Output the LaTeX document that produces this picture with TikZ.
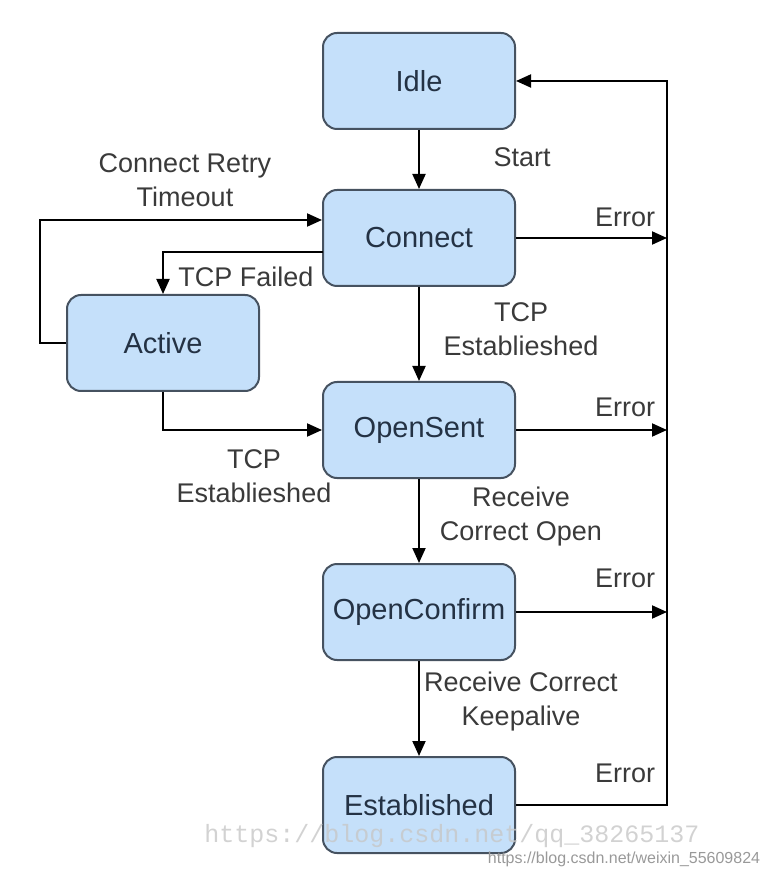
\documentclass[tikz,border=0pt]{standalone}
\usepackage{fontspec}
\setmainfont{Liberation Sans}
\newfontfamily\markfont{Liberation Mono}
\usetikzlibrary{arrows.meta}
\definecolor{statefill}{RGB}{197,224,250}
\definecolor{stateline}{RGB}{70,82,96}
\definecolor{statetext}{RGB}{36,50,68}
\definecolor{labeltext}{RGB}{58,58,58}
\begin{document}
\begin{tikzpicture}[x=0.5pt, y=-0.5pt, line width=1pt, >={Triangle[length=7.5pt,width=6.5pt]},
	state/.style={draw=stateline, fill=statefill, rounded corners=7pt, minimum width=96pt, minimum height=48pt, text=statetext, font=\fontsize{14.5}{17}\selectfont},
	lbl/.style={text=labeltext, font=\fontsize{13.5}{17}\selectfont, align=center, inner sep=0pt}]
	\useasboundingbox (0,0) rectangle (779,870);
	\node[state] (idle)        at (419,81)  {Idle};
	\node[state] (connect)     at (419,238) {Connect};
	\node[state] (opensent)    at (419,430) {OpenSent};
	\node[state] (openconfirm) at (419,612) {OpenConfirm};
	\node[state] (established) at (419,805) {Established};
	\node[state] (active)      at (163,343) {Active};
	\coordinate (bus)   at (667,81);
	\coordinate (retry) at (40,220);
	\coordinate (fail)  at (323,252);
	\foreach \from/\to in {
		idle/connect, connect/opensent,
		opensent/openconfirm, openconfirm/established}
	\draw[->] (\from) -- (\to);
	\foreach \s in {connect, opensent, openconfirm}
	\draw[->] (\s.east) -- (\s.east -| bus);
	\draw[->] (established.east) -| (bus) -- (idle.east);
	\draw[->] (active.west) -| (retry) -- (connect.west |- retry);
	\draw[->] (fail) -| (active.north);
	\draw[->] (active.south) |- (opensent.west);
	\node[lbl] (start)   at (522,157) {Start};
	\node[lbl] (err1)    at (625,217) {Error};
	\node[lbl] (err2)    at (625,407) {Error};
	\node[lbl] (err3)    at (625,578) {Error};
	\node[lbl] (err4)    at (625,773) {Error};
	\node[lbl] (retrylbl) at (185,180) {Connect Retry\\Timeout};
	\node[lbl] (faillbl) at (246,277) {TCP Failed};
	\node[lbl] (estlbl1) at (254,476) {TCP\\Establieshed};
	\node[lbl] (estlbl2) at (521,329) {TCP\\Establieshed};
	\node[lbl] (openlbl) at (521,517) {Receive\\Correct Open};
	\node[lbl] (keeplbl) at (521,702) {Receive Correct\\Keepalive};
	\node[text=black!22, opacity=0.8, inner sep=0pt, font=\markfont\fontsize{12.5}{14}\selectfont] (mark1) at (452,836) {https://blog.csdn.net/qq\_38265137};
	\node[text=black!40, font=\fontsize{8}{10}\selectfont, inner sep=0pt] (mark2) at (624,859) {https://blog.csdn.net/weixin\_55609824};
\end{tikzpicture}
\end{document}
